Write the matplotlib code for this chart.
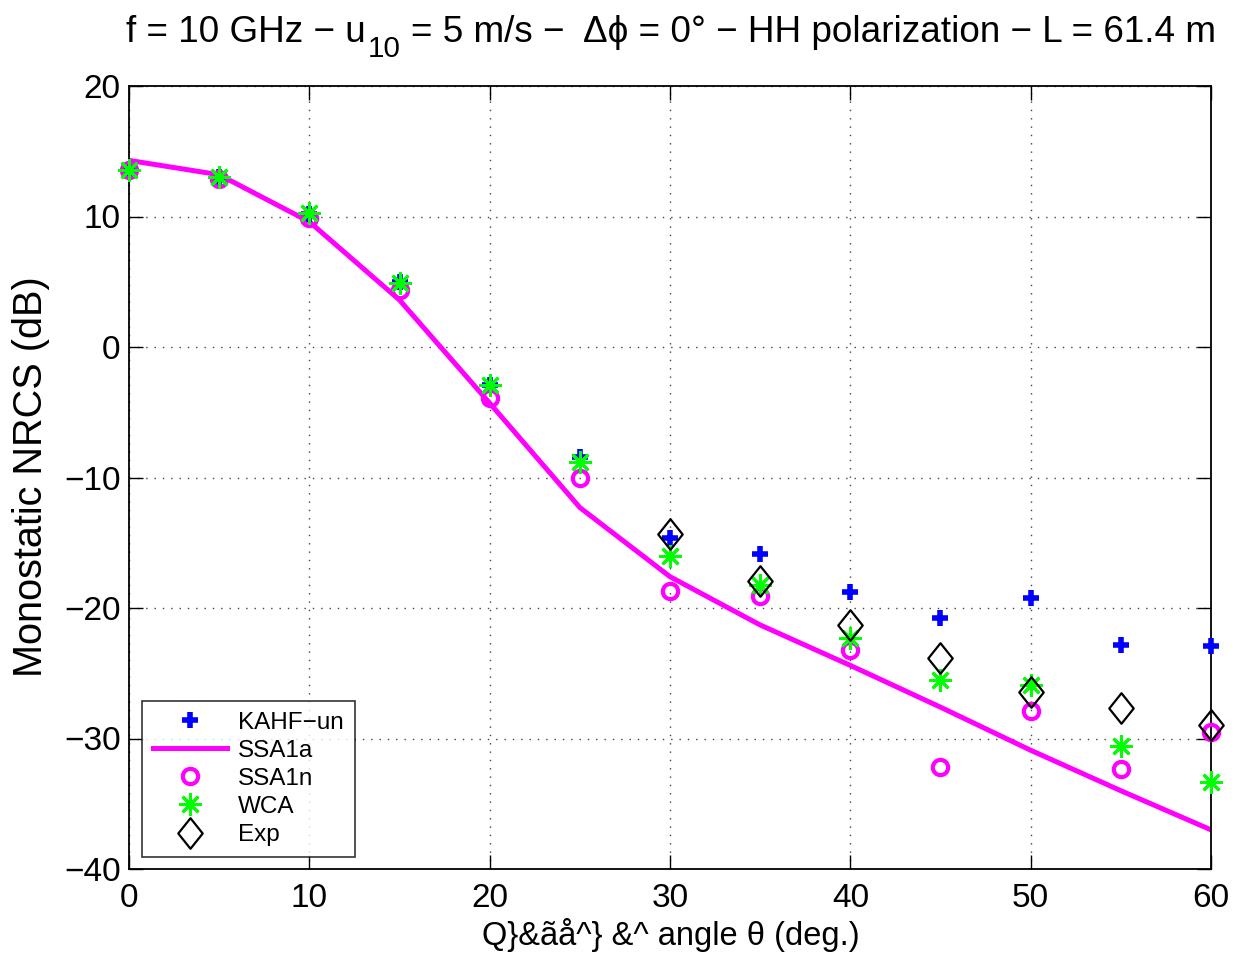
import matplotlib
matplotlib.use("Agg")
import matplotlib.pyplot as plt
from matplotlib.path import Path
import numpy as np

plt.rcParams['font.family'] = ['Liberation Sans', 'DejaVu Sans']

# ---- data ----
angles = [0, 5, 10, 15, 20, 25, 30, 35, 40, 45, 50, 55, 60]
kahf_un = [13.6, 13.0, 10.2, 5.0, -2.9, -8.4, -14.6, -15.9, -18.8, -20.8, -19.2, -22.8, -22.9]
ssa1a = [14.3, 13.2, 9.6, 3.6, -4.3, -12.3, -17.6, -21.3, -24.4, -27.6, -30.9, -34.0, -37.0]
ssa1n = [13.6, 12.9, 9.9, 4.4, -3.9, -10.0, -18.7, -19.1, -23.2, -32.2, -27.9, -32.3, -29.5]
wca = [13.6, 13.0, 10.3, 4.9, -2.9, -8.8, -16.0, -18.2, -22.3, -25.5, -25.9, -30.6, -33.3]
exp_angles = [30, 35, 40, 45, 50, 55, 60]
exp_vals = [-14.3, -17.9, -21.3, -23.8, -26.4, -27.7, -29.0]

xticks = [0, 10, 20, 30, 40, 50, 60]
yticks = [-40, -30, -20, -10, 0, 10, 20]

W, H = 1234, 957
fig = plt.figure(figsize=(W/100, H/100), dpi=100)
ax = fig.add_axes([129/W, 1-869/H, 1082/W, 783/H])

diamond = Path([(0, 1), (0.8, 0), (0, -1), (-0.8, 0), (0, 1)],
               [Path.MOVETO, Path.LINETO, Path.LINETO, Path.LINETO, Path.CLOSEPOLY])

ax.plot(angles, kahf_un, linestyle='none', marker='+', color='#0000ff',
        markersize=11, markeredgewidth=4, label='KAHF\u2212un', zorder=3, clip_on=False)
ax.plot(angles, ssa1a, color='#ff00ff', linewidth=3.6, label='SSA1a', zorder=2)
ax.plot(angles, ssa1n, linestyle='none', marker='o', markerfacecolor='none',
        markeredgecolor='#ff00ff', markersize=11, markeredgewidth=3, label='SSA1n',
        zorder=4, clip_on=False)
ax.plot(angles, wca, linestyle='none', marker=(8, 2, 0), color='#00ff00',
        markersize=16, markeredgewidth=2, label='WCA', zorder=5, clip_on=False)
ax.plot(exp_angles, exp_vals, linestyle='none', marker=diamond, markerfacecolor='none',
        markeredgecolor='black', markersize=22, markeredgewidth=1.6, label='Exp',
        zorder=6, clip_on=False)

ax.set_xlim(0, 60)
ax.set_ylim(-40, 20)
ax.set_xticks(xticks)
ax.set_yticks(yticks)
ax.set_yticklabels([str(v).replace('-', '\u2212') for v in yticks])
ax.tick_params(direction='in', length=10, width=1, top=True, right=True,
               labelsize=24, pad=6)
ax.tick_params(axis='x', pad=10)
for s in ax.spines.values():
    s.set_linewidth(1.3)
ax.grid(True, linestyle=(0, (1, 5)), color='#444444', linewidth=1)

# axis labels
fig.text(860/W, 1-935/H, 'Q}&\u00e3\u00e5^} &^ angle \u03b8 (deg.)', fontsize=23.5,
         ha='right', va='center')
fig.text(31/W, 1-477/H, 'Monostatic NRCS (dB)', fontsize=28.5, rotation=90,
         ha='center', va='center')

# title built from pieces (subscript)
fig.canvas.draw()
r = fig.canvas.get_renderer()
tfs = 26.6
base_y = 1 - 42/H
sub_y = 1 - 57/H
pieces = [('f = 10 GHz \u2212 u', tfs, base_y, 0),
          ('10', tfs*0.8, sub_y, 2),
          ('= 5 m/s \u2212  \u0394\u03d5 = 0\u00b0 \u2212 HH polarization \u2212 L = 61.4 m', tfs, base_y, 11)]
texts = []
for s, fs, y, gap in pieces:
    t = fig.text(0, y, s, fontsize=fs, ha='left', va='baseline')
    texts.append((t, gap))
widths = [t.get_window_extent(r).width for t, g in texts]
total = sum(widths) + sum(g for t, g in texts)
x = 671 - total/2
for (t, g), w in zip(texts, widths):
    x += g
    t.set_x(x/W)
    x += w

leg = ax.legend(loc='lower left', bbox_to_anchor=(13/1082, 12/783), fontsize=17.5,
                frameon=True, fancybox=False, edgecolor='black', borderpad=0.45,
                labelspacing=0.25, handlelength=3.05, handletextpad=0.45, borderaxespad=0)
leg.get_frame().set_linewidth(1.2)

fig.savefig('out.png', dpi=100)
